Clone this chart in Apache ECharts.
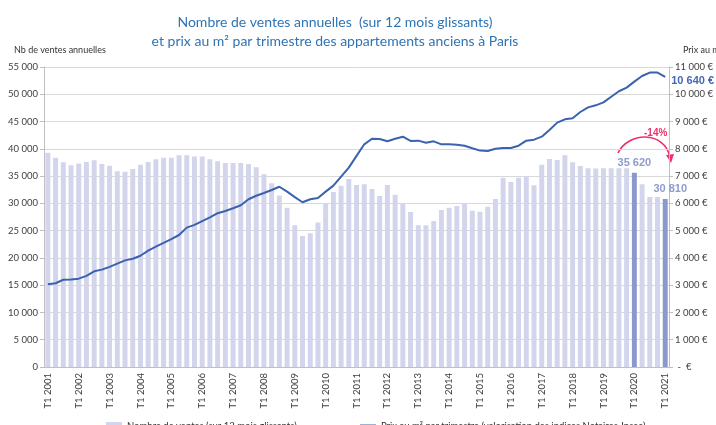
<!DOCTYPE html>
<html>
<head>
<meta charset="utf-8">
<script src="https://cdn.jsdelivr.net/npm/echarts@6/dist/echarts.min.js"></script>
<style>
  html, body { margin: 0; padding: 0; background: #fff; }
  #main { width: 716px; height: 425px; }
</style>
</head>
<body>
<div id="main"></div>
<script>
// années affichées (un trimestre T1..T4 par année, jusqu'à T1 2021)
const years = [2001, 2002, 2003, 2004, 2005, 2006, 2007, 2008, 2009, 2010,
  2011, 2012, 2013, 2014, 2015, 2016, 2017, 2018, 2019, 2020, 2021];

// nombre de ventes annuelles (12 mois glissants)
const ventes = [
  39300, 38350, 37550, 37000, 37300, 37600, 37900, 37200, 36900, 35900,
  35800, 36300, 37100, 37600, 38100, 38350, 38350, 38800, 38800, 38600,
  38600, 38100, 37700, 37400, 37400, 37400, 37200, 36600, 35350, 33700,
  31450, 29200, 25970, 24000, 24500, 26500, 29950, 32080, 33240, 34470,
  33370, 33490, 32630, 31350, 33370, 31590, 30000, 28420, 25970, 25970,
  26770, 28780, 29210, 29520, 30000, 28660, 28480, 29400, 30800, 34710,
  33920, 34710, 35020, 33310, 37090, 38130, 37950, 38810, 37520, 36850,
  36420, 36400, 36420, 36450, 36420, 36450, 35620, 33490, 31170, 31170,
  30810
];

// prix au m2 par trimestre
const prix = [
  3030, 3070, 3200, 3210, 3240, 3340, 3510, 3570, 3670, 3790,
  3910, 3970, 4080, 4265, 4410, 4550, 4690, 4840, 5110, 5210,
  5350, 5490, 5640, 5720, 5820, 5930, 6150, 6280, 6380, 6490,
  6610, 6430, 6230, 6040, 6150, 6200, 6430, 6650, 6980, 7310,
  7740, 8165, 8370, 8360, 8280, 8370, 8445, 8290, 8300, 8225,
  8275, 8165, 8165, 8150, 8110, 8020, 7935, 7920, 8005, 8030,
  8030, 8115, 8300, 8335, 8445, 8690, 8960, 9080, 9120, 9350,
  9520, 9595, 9705, 9910, 10110, 10245, 10465, 10670, 10795, 10795,
  10640
];

// barres mises en avant (T1 2020 et T1 2021)
const barresMisesEnAvant = [76, 80];

const trimestres = [];
years.forEach(y => {
  for (let t = 1; t <= 4; t++) {
    if (y === 2021 && t > 1) break;
    trimestres.push('T' + t + ' ' + y);
  }
});

const fmt = v => String(v).replace(/\B(?=(\d{3})+(?!\d))/g, ' ');

const barData = ventes.map((v, i) => {
  if (barresMisesEnAvant.indexOf(i) < 0) return v;
  return {
    value: v,
    itemStyle: { color: '#8a98cb' },
    label: {
      show: true, position: 'top', distance: 4,
      offset: i === ventes.length - 1 ? [5, 0] : [0, 0],
      formatter: p => fmt(p.value),
      color: '#8d9ccd', fontSize: 11, fontWeight: 'bold', fontFamily: 'Liberation Sans'
    }
  };
});

const axisTxt = { color: '#404040', fontSize: 9.5, fontFamily: 'Lato' };
const legendTxt = { color: '#333', fontSize: 9.5, fontFamily: 'Lato' };

const nomVentes = 'Nombre de ventes (sur 12 mois glissants)';
const nomPrix = 'Prix au m² par trimestre (valorisation des indices Notaires-Insee)';

const option = {
  animation: false,
  title: [
    {
      text: 'Nombre de ventes annuelles  (sur 12 mois glissants)\net prix au m² par trimestre des appartements anciens à Paris',
      left: 330, top: 8, textAlign: 'center',
      textStyle: { color: '#2e74b5', fontSize: 14, fontWeight: 'normal', fontFamily: 'Lato', lineHeight: 19 }
    },
    {
      text: 'Nb de ventes annuelles', left: 9, top: 41,
      textStyle: { color: '#333', fontSize: 9, fontWeight: 'normal', fontFamily: 'Lato' }
    },
    {
      text: 'Prix au m²', left: 678, top: 41,
      textStyle: { color: '#333', fontSize: 9, fontWeight: 'normal', fontFamily: 'Lato' }
    }
  ],
  grid: { left: 44, right: 39, top: 67, bottom: 58 },
  legend: [
    {
      left: 101, top: 416, itemWidth: 16, itemHeight: 8, textStyle: legendTxt,
      data: [{ name: nomVentes, icon: 'rect', itemStyle: { color: '#d2d5eb' } }]
    },
    {
      left: 355, top: 416, itemWidth: 16, itemHeight: 3, textStyle: legendTxt,
      itemStyle: { color: '#3b62ae', opacity: 1 },
      lineStyle: { color: '#3b62ae', width: 2, opacity: 1 },
      data: [{ name: nomPrix, icon: 'rect' }]
    }
  ],
  xAxis: {
    type: 'category',
    data: trimestres,
    axisLine: { lineStyle: { color: '#bfbfbf' } },
    axisTick: { interval: 3, length: 4, lineStyle: { color: '#bfbfbf' } },
    axisLabel: Object.assign({ interval: 3, rotate: 90, margin: 6 }, axisTxt)
  },
  yAxis: [
    {
      type: 'value', min: 0, max: 55000, interval: 5000,
      axisLine: { show: true, lineStyle: { color: '#bfbfbf' } },
      axisTick: { show: true, length: 4, lineStyle: { color: '#bfbfbf' } },
      splitLine: { lineStyle: { color: '#d9d9d9' } },
      axisLabel: Object.assign({ margin: 6, formatter: v => fmt(v) }, axisTxt)
    },
    {
      type: 'value', min: 0, max: 11000, interval: 1000,
      axisLine: { show: true, lineStyle: { color: '#bfbfbf' } },
      axisTick: { show: true, length: 4, lineStyle: { color: '#bfbfbf' } },
      splitLine: { show: false },
      axisLabel: Object.assign({ margin: 6, formatter: v => v === 0 ? ' -  €' : fmt(v) + ' €' }, axisTxt)
    }
  ],
  series: [
    {
      name: nomVentes,
      type: 'bar',
      data: barData,
      barCategoryGap: '36%',
      itemStyle: { color: '#d2d5eb' }
    },
    {
      name: nomPrix,
      type: 'line',
      yAxisIndex: 1,
      data: prix,
      symbol: 'none',
      lineStyle: { color: '#3b62ae', width: 2 },
      itemStyle: { color: '#3b62ae' },
      endLabel: {
        show: true, distance: 6, offset: [0, 4],
        formatter: p => fmt(p.value) + ' €',
        color: '#4568b3', fontSize: 11, fontWeight: 'bold', fontFamily: 'Liberation Sans'
      },
      z: 5
    }
  ],
  graphic: [
    {
      type: 'bezierCurve',
      shape: { x1: 618, y1: 153, cpx1: 628, cpy1: 132, cpx2: 664, cpy2: 130, x2: 670, y2: 157 },
      style: { stroke: '#f0306c', lineWidth: 1.6, fill: null }
    },
    {
      type: 'polygon',
      shape: { points: [[666, 155], [674, 154], [671, 163]] },
      style: { fill: '#f0306c' }
    },
    {
      type: 'text', left: 644, top: 128,
      style: { text: '-14%', fill: '#f0306c', fontSize: 10, fontWeight: 'bold', fontFamily: 'Liberation Sans' }
    }
  ]
};

const myChart = echarts.init(document.getElementById('main'));
myChart.setOption(option);
</script>
</body>
</html>
